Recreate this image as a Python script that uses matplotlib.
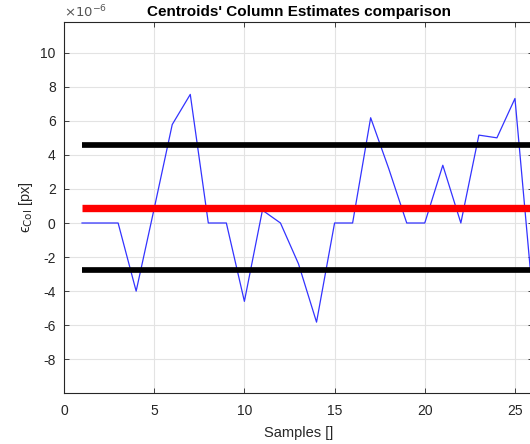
import numpy as np
import matplotlib.pyplot as plt
from matplotlib.ticker import FuncFormatter

# centroid column error per sample (units of 1e-6 px)
samples = [1, 2, 3, 4, 5, 6, 7, 8, 9, 10, 11, 12, 13,
           14, 15, 16, 17, 18, 19, 20, 21, 22, 23, 24, 25, 26]
err_col = [0, 0, 0, -4.0, 0.85, 5.78, 7.55, 0, 0, -4.6, 0.75, 0, -2.4,
           -5.82, 0, 0, 6.18, 3.2, 0, 0, 3.39, 0, 5.16, 5.0, 7.31, -4.5]
mean_val = 0.9
upper_val = 4.55
lower_val = -2.73
scale = 1e-6

plt.rcParams['font.family'] = ['Liberation Sans', 'DejaVu Sans']
grey = '#262626'

fig = plt.figure(figsize=(5.3, 4.44), dpi=100)
ax = fig.add_axes([64/530, 51/444, 469/530, 371/444])

x = np.array(samples)
y = np.array(err_col) * scale
ax.plot(x, y, color='#3333ff', lw=0.9)
xs = [samples[0], samples[-1]]
ax.plot(xs, [upper_val*scale]*2, color='black', lw=4.1, solid_capstyle='butt')
ax.plot(xs, [mean_val*scale]*2, color='red', lw=5.3, solid_capstyle='butt')
ax.plot(xs, [lower_val*scale]*2, color='black', lw=4.1, solid_capstyle='butt')

ax.set_xlim(0, 26)
ax.set_ylim(-9.98e-6, 11.8e-6)
ax.set_xticks([0, 5, 10, 15, 20, 25])
ax.set_yticks(np.arange(-8, 11, 2) * scale)
ax.yaxis.set_major_formatter(FuncFormatter(lambda v, p: '%d' % round(v / scale)))
fig.text(64/530, 1 - 12/444, r'$\times10^{-6}$', color='#555555', fontsize=9.5,
         ha='left', va='center')

ax.grid(True, color='#e3e3e3', lw=0.8)
ax.set_axisbelow(True)
ax.tick_params(direction='in', top=True, right=True, length=3.5,
               labelsize=10, colors=grey, width=0.6)
ax.tick_params(axis='x', pad=8)
ax.tick_params(axis='y', pad=6)
for s in ax.spines.values():
    s.set_color(grey)
    s.set_linewidth(0.8)

ax.set_title("Centroids' Column Estimates comparison", fontsize=11,
             fontweight='bold', pad=4)
ax.set_xlabel('Samples []', fontsize=10.5, color=grey, labelpad=6)
ax.set_ylabel('\u03f5$_{\\mathrm{Col}}$ [px]', fontsize=10.5, color=grey,
              labelpad=4)

fig.savefig('out.png', dpi=100)
